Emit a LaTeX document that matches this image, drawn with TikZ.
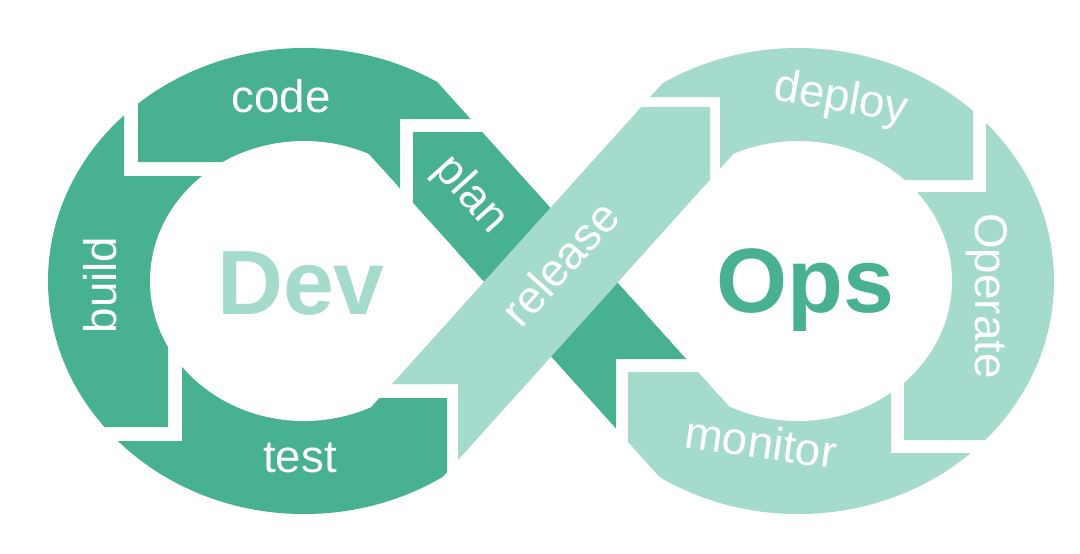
\documentclass[tikz,border=0pt]{standalone}
\usepackage{fontspec}
\setmainfont{Liberation Sans}
\usepackage{xcolor}
\usepackage{tikz}
\usetikzlibrary{calc}
\definecolor{devgreen}{HTML}{47B192}
\definecolor{opsgreen}{HTML}{A5DBCC}

\begin{document}
\begin{tikzpicture}[x=0.01cm,y=-0.01cm,
  lbl/.style={text=white,font=\fontsize{13}{13}\selectfont,inner sep=0pt},
  big/.style={font=\fontsize{26}{26}\selectfont\bfseries,inner sep=0pt,anchor=base}]
\useasboundingbox (0,0) rectangle (1080,553);
% loop centres and the two inner corners of the crossing
\coordinate (C1) at (304,281); \coordinate (C2) at (798,281);
\coordinate (V1) at (483.8,281.8); \coordinate (V2) at (617.8,282.5);
% left loop: code, build, test
\begin{scope}
  \clip (C1) ellipse [x radius=256, y radius=233];
  \clip (V2) -- (283.3,-89) -- (-50,-89) -- (-50,654) -- (283.3,654) -- cycle;
  \fill[devgreen] (510,119) -- (400,119) -- (400,229) -- (C1) -- (248,162) -- (138,162) -- (138,-20) -- (510,-20) -- cycle; % code
  \fill[devgreen] (124,-20) -- (124,176) -- (234,176) -- (C1) -- (168,317) -- (168,427) -- (-20,427) -- (-20,-20) -- cycle; % build
  \fill[devgreen] (-20,441) -- (182,441) -- (182,331) -- (C1) -- (337,398) -- (447,398) -- (447,600) -- (-20,600) -- cycle; % test
\end{scope}
% right loop: deploy, operate, monitor
\begin{scope}
  \clip (C2) ellipse [x radius=256, y radius=233];
  \clip (V1) -- (818.3,-89.7) -- (1130,-89.7) -- (1130,653.3) -- (818.3,653.3) -- cycle;
  \fill[opsgreen] (610,-20) -- (610,97) -- (720,97) -- (720,207) -- (C2) -- (863,180) -- (973,180) -- (973,-20) -- cycle; % deploy
  \fill[opsgreen] (986,-20) -- (986,192) -- (876,192) -- (C2) -- (904,330) -- (904,440) -- (1100,440) -- (1100,-20) -- cycle; % operate
  \fill[opsgreen] (1100,453) -- (891,453) -- (891,343) -- (C2) -- (738,372) -- (628,372) -- (628,600) -- (1100,600) -- cycle; % monitor
\end{scope}
% the crossing bands, release on top
\fill[devgreen] (413,132) -- (482.2,132) -- (686.7,359) -- (616,359) -- (616,428.5) -- (413,203.1) -- cycle; % plan
\fill[opsgreen] (458,384) -- (391.8,384) -- (641.2,107) -- (710,107) -- (710,180.1) -- (458,460) -- cycle; % release
% holes
\begin{scope}
  \clip (V1) -- (216,-15.4) -- (-50,-15.4) -- (-50,579) -- (216,579) -- cycle;
  \fill[white] (C1) ellipse [x radius=154, y radius=140];
  \fill[white] (V1) -- (380,166) -- (380,397) -- cycle;
\end{scope}
\begin{scope}
  \clip (V2) -- (885.4,-14.7) -- (1130,-14.7) -- (1130,579.7) -- (885.4,579.7) -- cycle;
  \fill[white] (C2) ellipse [x radius=154, y radius=140];
  \fill[white] (V2) -- (720,169) -- (720,396) -- cycle;
\end{scope}
% labels
\node[lbl] (code) at (281,96) {code};
\node[lbl,rotate=90] (build) at (100,285) {build};
\node[lbl] (test) at (300,458) {test};
\node[lbl,rotate=-48] (plan) at (470,195) {plan};
\node[lbl,rotate=48] (release) at (560,263) {release};
\node[lbl,rotate=-10] (deploy) at (841,100) {deploy};
\node[lbl,rotate=-90] (operate) at (987,296) {Operate};
\node[lbl,rotate=-8] (monitor) at (761,442) {monitor};
\node[big,text=opsgreen] (dev) at (301,314) {Dev};
\node[big,text=devgreen] (ops) at (805,312) {Ops};
\end{tikzpicture}
\end{document}
